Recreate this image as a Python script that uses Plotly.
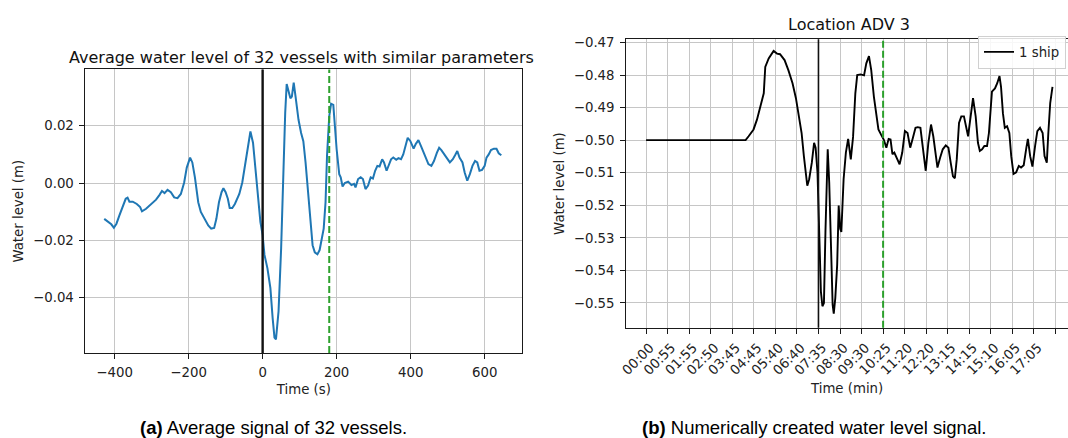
import plotly.graph_objects as go

W, H = 1068, 438

# ---------------- (a) average water level of 32 vessels ----------------
avg_time_s = [
    -428, -418, -409, -402, -395, -387, -378, -370, -365, -360, -351, -340,
    -331, -326, -315, -304, -295, -288, -279, -272, -265, -257, -248, -239,
    -230, -221, -212, -205, -196, -190, -183, -174, -167, -156, -147, -139,
    -131, -125, -118, -111, -106, -100, -94, -89, -82, -75, -69, -63, -55,
    -48, -42, -37, -33, -26, -20, -12, -6, 0, 5, 13, 21, 27, 32, 36, 43, 50,
    56, 61, 65, 70, 75, 79, 84, 89, 97, 104, 110, 116, 123, 131, 135, 141,
    148, 154, 159, 165, 170, 174, 180, 185, 191, 195, 200, 207, 211, 216,
    222, 231, 240, 247, 251, 258, 265, 271, 278, 285, 292, 298, 304, 310,
    316, 323, 328, 335, 341, 347, 353, 361, 367, 374, 380, 386, 392, 399,
    408, 414, 421, 428, 435, 441, 448, 456, 463, 471, 477, 483, 490, 497,
    506, 514, 520, 526, 532, 540, 546, 553, 560, 567, 574, 580, 586, 593,
    600, 605, 611, 617, 625, 632, 638, 645,
]
avg_level_m = [
    -0.0125, -0.0136, -0.0144, -0.0156, -0.0142, -0.0113, -0.0081, -0.0055,
    -0.0051, -0.0065, -0.0065, -0.0073, -0.0084, -0.0099, -0.0090, -0.0078,
    -0.0067, -0.0058, -0.0042, -0.0028, -0.0035, -0.0024, -0.0032, -0.0050,
    -0.0053, -0.0038, 0.0002, 0.0054, 0.0089, 0.0072, 0.0020, -0.0067,
    -0.0101, -0.0125, -0.0148, -0.0159, -0.0157, -0.0125, -0.0067, -0.0032,
    -0.0018, -0.0032, -0.0055, -0.0087, -0.0087, -0.0073, -0.0055, -0.0038,
    0.0002, 0.0060, 0.0112, 0.0158, 0.0180, 0.0141, 0.0060, -0.0055,
    -0.0136, -0.0182, -0.0251, -0.0298, -0.0367, -0.0471, -0.0540, -0.0546,
    -0.0448, -0.0228, 0.0072, 0.0245, 0.0346, 0.0319, 0.0296, 0.0302,
    0.0351, 0.0302, 0.0221, 0.0175, 0.0146, 0.0072, -0.0044, -0.0159,
    -0.0217, -0.0242, -0.0249, -0.0234, -0.0194, -0.0159, -0.0067, 0.0095,
    0.0233, 0.0277, 0.0273, 0.0187, 0.0118, 0.0031, 0.0020, -0.0012,
    0.0000, 0.0005, -0.0007, -0.0003, -0.0015, 0.0014, 0.0020, 0.0014,
    -0.0021, -0.0009, 0.0020, 0.0016, 0.0043, 0.0060, 0.0058, 0.0083,
    0.0072, 0.0043, 0.0066, 0.0083, 0.0089, 0.0081, 0.0087, 0.0083,
    0.0100, 0.0135, 0.0158, 0.0147, 0.0120, 0.0137, 0.0150, 0.0129,
    0.0106, 0.0083, 0.0066, 0.0060, 0.0077, 0.0106, 0.0123, 0.0115,
    0.0100, 0.0089, 0.0072, 0.0083, 0.0097, 0.0112, 0.0089, 0.0072,
    0.0037, 0.0008, 0.0031, 0.0060, 0.0077, 0.0072, 0.0043, 0.0046,
    0.0060, 0.0089, 0.0100, 0.0115, 0.0120, 0.0120, 0.0104, 0.0097,
]
avg_xticks = [-400, -200, 0, 200, 400, 600]
avg_yticks = [-0.04, -0.02, 0.0, 0.02]
avg_ytext = ["\u22120.04", "\u22120.02", "0.00", "0.02"]
AVG_PASSAGE_S = 0      # black marker
AVG_END_S = 180        # green dashed marker

# ---------------- (b) numerically created signal, location ADV 3 ----------------
num_time_s = [
    0, 263, 271, 284, 293, 302, 311, 315, 324, 337, 346, 354, 366, 376, 387,
    396, 404, 411, 417, 423, 426, 431, 438, 444, 448, 453, 458, 462, 466,
    470, 474, 480, 484, 488, 493, 496, 500, 505, 509, 513, 516, 522, 528,
    534, 541, 547, 553, 558, 567, 576, 582, 589, 595, 602, 608, 614, 621,
    628, 635, 641, 646, 651, 656, 663, 670, 677, 684, 691, 698, 705, 712,
    718, 725, 733, 739, 746, 753, 759, 766, 770, 777, 784, 792, 799, 805,
    811, 816, 821, 827, 833, 840, 846, 851, 856, 864, 871, 877, 882, 888,
    894, 901, 906, 910, 914, 922, 928, 934, 938, 943, 948, 954, 960, 965,
    971, 978, 985, 991, 998, 1005, 1009, 1015, 1021, 1028, 1034, 1041,
    1048, 1053, 1059, 1063, 1068, 1074,
]
num_level_m = [
    -0.5000, -0.5000, -0.4988, -0.4967, -0.4937, -0.4896, -0.4856, -0.4775,
    -0.4749, -0.4726, -0.4734, -0.4736, -0.4754, -0.4785, -0.4825, -0.4871,
    -0.4927, -0.4978, -0.5049, -0.5109, -0.5140, -0.5120, -0.5069, -0.5008,
    -0.5023, -0.5099, -0.5282, -0.5465, -0.5510, -0.5500, -0.5282, -0.5028,
    -0.5130, -0.5333, -0.5505, -0.5533, -0.5485, -0.5383, -0.5201, -0.5272,
    -0.5282, -0.5120, -0.5038, -0.4996, -0.5059, -0.4990, -0.4856, -0.4800,
    -0.4798, -0.4801, -0.4764, -0.4742, -0.4785, -0.4866, -0.4917, -0.4967,
    -0.4983, -0.4998, -0.5023, -0.4996, -0.4998, -0.5043, -0.5038, -0.5054,
    -0.5074, -0.5038, -0.4972, -0.4978, -0.5023, -0.4993, -0.4962, -0.4960,
    -0.4962, -0.5038, -0.5094, -0.5008, -0.4952, -0.4988, -0.5059, -0.5084,
    -0.5054, -0.5028, -0.5016, -0.5023, -0.5069, -0.5111, -0.5117, -0.5059,
    -0.4947, -0.4927, -0.4927, -0.4967, -0.4988, -0.4942, -0.4871, -0.4927,
    -0.5008, -0.5033, -0.5028, -0.5018, -0.5018, -0.4978, -0.4917, -0.4851,
    -0.4841, -0.4825, -0.4803, -0.4836, -0.4917, -0.4962, -0.4957, -0.4978,
    -0.5049, -0.5104, -0.5099, -0.5079, -0.5084, -0.5077, -0.5023, -0.4996,
    -0.5049, -0.5081, -0.5018, -0.4972, -0.4962, -0.4978, -0.5049, -0.5069,
    -0.4978, -0.4886, -0.4836,
]
time_labels = [
    "00:00", "00:55", "01:55", "02:50", "03:45", "04:45", "05:40", "06:40",
    "07:35", "08:30", "09:30", "10:25", "11:20", "12:20", "13:15", "14:15",
    "15:10", "16:05", "17:05", "",
]
TICK_STEP_S = 1025 / 18
num_xticks = [i * TICK_STEP_S for i in range(len(time_labels))]
num_yticks = [-0.55, -0.54, -0.53, -0.52, -0.51, -0.50, -0.49, -0.48, -0.47]
num_ytext = ["\u2212%.2f" % abs(v) for v in num_yticks]
NUM_PASSAGE_S = 8 * TICK_STEP_S
NUM_END_S = 11 * TICK_STEP_S

# ---------------- styling ----------------
FONT = "DejaVu Sans"
FS = 13.3          # tick and axis-label size
FS_TITLE = 16      # panel title size
FS_CAPTION = 18.5  # caption size
GRID = "#c6c6c6"
AXIS = "#1a1a1a"
BLUE = "#1f77b4"
GREEN = "#2ca02c"


def px_x(p):
    return p / W


def px_y(p):
    return 1 - p / H


fig = go.Figure()

fig.add_trace(go.Scatter(
    x=avg_time_s, y=avg_level_m, mode="lines", xaxis="x", yaxis="y",
    line=dict(color=BLUE, width=2), showlegend=False,
))
fig.add_trace(go.Scatter(
    x=num_time_s, y=num_level_m, mode="lines", xaxis="x2", yaxis="y2",
    line=dict(color="black", width=1.9), name="1 ship", showlegend=True,
))

common_axis = dict(
    showgrid=True, gridcolor=GRID, gridwidth=1, zeroline=False,
    showline=True, linecolor=AXIS, linewidth=1,
    ticks="outside", ticklen=5, tickwidth=1, tickcolor=AXIS,
    tickfont=dict(family=FONT, size=FS, color="#222"),
)

fig.update_layout(
    width=W, height=H,
    margin=dict(l=0, r=0, t=0, b=0),
    paper_bgcolor="white", plot_bgcolor="white",
    font=dict(family=FONT, size=FS, color="#222"),
    xaxis=dict(
        **common_axis, domain=[px_x(79), px_x(518.7)], anchor="y",
        range=[-478.7, 701.7], tickvals=avg_xticks,
        ticktext=[("\u2212%d" % -v) if v < 0 else str(v) for v in avg_xticks],
        mirror=True, ticklabelstandoff=2,
        title=dict(text="Time (s)", standoff=5, font=dict(family=FONT, size=FS)),
    ),
    yaxis=dict(
        **common_axis, domain=[px_y(352.3), px_y(66)], anchor="x",
        range=[-0.05938, 0.03969], tickvals=avg_yticks, ticktext=avg_ytext,
        mirror=True, ticklabelstandoff=3,
        title=dict(text="Water level (m)", standoff=6, font=dict(family=FONT, size=FS)),
    ),
    xaxis2=dict(
        **common_axis, domain=[px_x(623.3), 1.0], anchor="y2",
        range=[-52.5, 1115], tickvals=num_xticks, ticktext=time_labels,
        tickangle=-45, ticklabelshift=4, ticklabelstandoff=1,
        mirror=True,
        title=dict(text="Time (min)", standoff=6, font=dict(family=FONT, size=FS)),
    ),
    yaxis2=dict(
        **common_axis, domain=[px_y(326.7), px_y(35.7)], anchor="x2",
        range=[-0.5576, -0.46904], tickvals=num_yticks, ticktext=num_ytext,
        mirror=False, ticklabelstandoff=3,
        title=dict(text="Water level (m)", standoff=6, font=dict(family=FONT, size=FS)),
    ),
    legend=dict(
        x=px_x(1066), xanchor="right", y=px_y(32), yanchor="top",
        bgcolor="rgba(255,255,255,0.85)", bordercolor="#d0d0d0", borderwidth=1,
        font=dict(family=FONT, size=FS, color="#222"), itemwidth=30,
        tracegroupgap=0,
    ),
)

# event markers
fig.add_shape(type="line", xref="x", yref="y domain", x0=AVG_PASSAGE_S, x1=AVG_PASSAGE_S,
              y0=0, y1=1, line=dict(color="#111", width=2.4))
fig.add_shape(type="line", xref="x", yref="y domain", x0=AVG_END_S, x1=AVG_END_S,
              y0=0, y1=1, line=dict(color=GREEN, width=2, dash="7px,3px"))
fig.add_shape(type="line", xref="x2", yref="y2 domain", x0=NUM_PASSAGE_S, x1=NUM_PASSAGE_S,
              y0=0, y1=1, line=dict(color="#111", width=1.6))
fig.add_shape(type="line", xref="x2", yref="y2 domain", x0=NUM_END_S, x1=NUM_END_S,
              y0=0, y1=1, line=dict(color=GREEN, width=2, dash="7px,3px"))

# panel titles and captions
fig.add_annotation(text="Average water level of 32 vessels with similar parameters",
                   xref="paper", yref="paper", x=px_x(296), y=px_y(54),
                   xanchor="center", yanchor="middle", showarrow=False,
                   font=dict(family=FONT, size=FS_TITLE, color="#111"))
fig.add_annotation(text="Location ADV 3",
                   xref="paper", yref="paper", x=px_x(848), y=px_y(21),
                   xanchor="center", yanchor="middle", showarrow=False,
                   font=dict(family=FONT, size=FS_TITLE, color="#111"))
fig.add_annotation(text="<b>(a)</b> Average signal of 32 vessels.",
                   xref="paper", yref="paper", x=px_x(268), y=px_y(427),
                   xanchor="center", yanchor="middle", showarrow=False,
                   font=dict(family="Liberation Sans", size=FS_CAPTION, color="black"))
fig.add_annotation(text="<b>(b)</b> Numerically created water level signal.",
                   xref="paper", yref="paper", x=px_x(812), y=px_y(427),
                   xanchor="center", yanchor="middle", showarrow=False,
                   font=dict(family="Liberation Sans", size=FS_CAPTION, color="black"))

fig.write_html("out.html")
